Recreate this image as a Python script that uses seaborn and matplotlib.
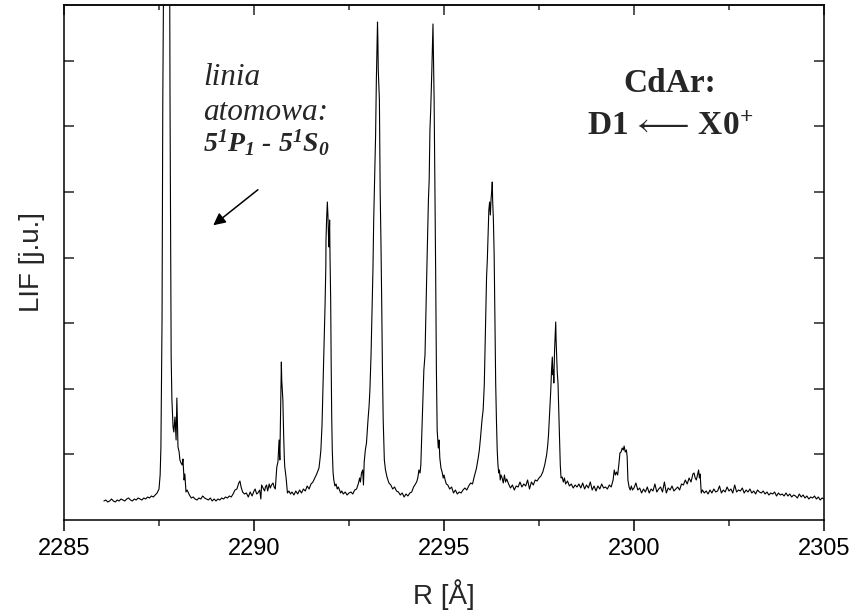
import matplotlib
matplotlib.use("Agg")
import matplotlib.pyplot as plt
import seaborn as sns
import pandas as pd
from matplotlib.ticker import MultipleLocator, NullFormatter

# ---------------- data (wavelength in Angstrom, LIF in arbitrary units) ----------------
seg1_wl = [2286.05, 2286.10, 2286.15, 2286.20, 2286.25, 2286.30, 2286.35, 2286.40, 2286.45, 2286.50,
           2286.55, 2286.60, 2286.65, 2286.70, 2286.75, 2286.80, 2286.85, 2286.90, 2286.95, 2287.00,
           2287.05, 2287.10, 2287.15, 2287.20, 2287.25, 2287.30, 2287.35, 2287.40, 2287.45, 2287.50]
seg1_lif = [19, 20, 18, 19, 21, 19, 18, 20, 19, 21,
            20, 19, 21, 22, 20, 19, 21, 20, 22, 21,
            20, 22, 21, 23, 22, 24, 23, 25, 27, 31]

seg2_wl = [2287.53, 2287.55, 2287.58, 2287.60, 2287.63, 2287.68, 2287.74, 2287.78, 2287.79, 2287.82,
           2287.84, 2287.87, 2287.89, 2287.92, 2287.95, 2287.97, 2288.00, 2288.03, 2288.05, 2288.08,
           2288.11, 2288.13, 2288.16, 2288.18, 2288.21, 2288.24]
seg2_lif = [45, 72, 200, 420, 600, 720, 650, 560, 420, 163,
            120, 93, 88, 103, 80, 122, 73, 68, 60, 57,
            55, 61, 40, 46, 28, 30]

seg3_wl = [2288.30, 2288.35, 2288.40, 2288.45, 2288.50, 2288.55, 2288.60, 2288.65, 2288.70, 2288.75,
           2288.80, 2288.85, 2288.90, 2288.95, 2289.00, 2289.05, 2289.10, 2289.15, 2289.20, 2289.25,
           2289.30, 2289.35, 2289.40, 2289.45, 2289.50, 2289.55, 2289.60,
           2289.63, 2289.66, 2289.70, 2289.75, 2289.80, 2289.85, 2289.90, 2289.95,
           2290.00, 2290.03, 2290.07, 2290.10, 2290.15, 2290.18, 2290.20, 2290.25, 2290.28, 2290.30,
           2290.33, 2290.36, 2290.40, 2290.43, 2290.46, 2290.50, 2290.53, 2290.56]
seg3_lif = [25, 22, 23, 21, 20, 22, 21, 24, 22, 21,
            20, 22, 19, 21, 19, 21, 20, 22, 21, 23,
            22, 24, 23, 26, 30, 31, 37,
            39, 33, 28, 26, 27, 23, 28, 24,
            29, 31, 26, 27, 30, 21, 35, 31, 29, 33,
            35, 29, 36, 32, 35, 37, 33, 31]

seg4_wl = [2290.60, 2290.63, 2290.66, 2290.68, 2290.70, 2290.72, 2290.73, 2290.745, 2290.76, 2290.78,
           2290.80, 2290.81, 2290.83, 2290.85, 2290.88, 2290.92, 2290.96,
           2291.00, 2291.05, 2291.10, 2291.15, 2291.20, 2291.25, 2291.30, 2291.35, 2291.40, 2291.45,
           2291.50, 2291.55, 2291.60, 2291.65, 2291.68]
seg4_lif = [53, 58, 80, 60, 110, 158, 140, 130, 120, 85,
            60, 53, 47, 40, 27, 29, 26,
            28, 25, 29, 26, 30, 27, 31, 29, 34, 31,
            36, 38, 42, 46, 49]

seg5_wl = [2291.71, 2291.74, 2291.76, 2291.79, 2291.82, 2291.84, 2291.87, 2291.89, 2291.895, 2291.91,
           2291.93, 2291.945, 2291.96, 2291.975, 2291.99, 2292.00, 2292.018, 2292.03, 2292.045, 2292.06,
           2292.08, 2292.10, 2292.13, 2292.16, 2292.19, 2292.22, 2292.25, 2292.28, 2292.31, 2292.35,
           2292.40, 2292.45]
seg5_lif = [52, 62, 70, 95, 140, 170, 215, 253, 280, 300,
            318, 305, 285, 273, 300, 265, 220, 160, 103, 70,
            48, 40, 34, 36, 31, 33, 30, 27, 29, 26,
            28, 25]

seg6_wl = [2292.50, 2292.55, 2292.60, 2292.65, 2292.70, 2292.75,
           2292.78, 2292.80, 2292.83, 2292.86, 2292.88, 2292.90, 2292.93, 2292.96,
           2293.00, 2293.03, 2293.05, 2293.08, 2293.10, 2293.13, 2293.15, 2293.18, 2293.20, 2293.22,
           2293.24, 2293.25, 2293.26, 2293.27, 2293.30, 2293.32, 2293.34, 2293.36, 2293.38, 2293.40,
           2293.43, 2293.46]
seg6_lif = [27, 28, 26, 30, 31, 37,
            42, 38, 47, 50, 35, 58, 70, 77,
            100, 115, 130, 165, 200, 250, 300, 350, 385, 440,
            480, 498, 480, 450, 420, 330, 280, 220, 150, 100,
            60, 50]

seg7_wl = [2293.50, 2293.55, 2293.60, 2293.65, 2293.70, 2293.75, 2293.80, 2293.85, 2293.90, 2293.95,
           2294.00, 2294.05, 2294.10, 2294.15, 2294.20, 2294.25,
           2294.28, 2294.31, 2294.34, 2294.37, 2294.39, 2294.41, 2294.43, 2294.45, 2294.47, 2294.50,
           2294.53, 2294.56, 2294.59, 2294.61, 2294.63, 2294.65, 2294.68, 2294.71, 2294.72, 2294.74,
           2294.76, 2294.78, 2294.80, 2294.82, 2294.85, 2294.87, 2294.89, 2294.92, 2294.95, 2294.98]
seg7_lif = [43, 37, 35, 31, 33, 29, 28, 25, 27, 23,
            26, 24, 27, 28, 33, 36,
            38, 42, 50, 47, 55, 80, 103, 125, 150, 165,
            220, 270, 320, 340, 390, 410, 450, 496, 470, 420,
            340, 250, 150, 90, 72, 80, 62, 52, 48, 42]

seg8_wl = [2295.00, 2295.03, 2295.06, 2295.10,
           2295.15, 2295.20, 2295.25, 2295.30, 2295.35, 2295.40, 2295.45, 2295.50, 2295.55, 2295.60,
           2295.65, 2295.70, 2295.75, 2295.80, 2295.85, 2295.90, 2295.93, 2295.96,
           2296.00, 2296.03, 2296.06, 2296.08, 2296.10, 2296.12, 2296.14, 2296.16, 2296.18, 2296.20,
           2296.22, 2296.24, 2296.26, 2296.27, 2296.28, 2296.30, 2296.32, 2296.34, 2296.36, 2296.38,
           2296.40, 2296.42, 2296.44, 2296.46, 2296.48, 2296.50, 2296.53, 2296.56, 2296.59, 2296.62,
           2296.65]
seg8_lif = [45, 40, 36, 35,
            31, 33, 27, 30, 26, 28, 27, 30, 32, 30,
            34, 37, 36, 44, 51, 62, 70, 82,
            100, 110, 135, 170, 205, 243, 260, 285, 310, 318,
            305, 322, 330, 338, 320, 300, 265, 200, 137, 100,
            70, 55, 47, 50, 40, 45, 42, 37, 45, 38,
            41]

seg9_wl = [2296.70, 2296.75, 2296.80, 2296.85, 2296.90, 2296.95, 2297.00, 2297.05, 2297.10, 2297.15,
           2297.20, 2297.25, 2297.30, 2297.35, 2297.40, 2297.45, 2297.50, 2297.55, 2297.60, 2297.65,
           2297.70, 2297.73, 2297.75, 2297.77, 2297.79, 2297.81, 2297.83, 2297.85, 2297.87, 2297.88,
           2297.89, 2297.91, 2297.93, 2297.94, 2297.95, 2297.96, 2297.97, 2297.98,
           2298.00, 2298.02, 2298.04, 2298.06, 2298.08, 2298.11, 2298.14, 2298.17, 2298.20]
seg9_lif = [36, 32, 35, 30, 34, 33, 38, 33, 36, 34,
            40, 31, 38, 35, 40, 39, 42, 44, 48, 55,
            65, 75, 85, 100, 115, 130, 150, 163, 145, 150,
            137, 170, 190, 198, 180, 170, 160, 148,
            137, 110, 80, 55, 42, 43, 38, 42, 36]

seg10_wl = [2298.25, 2298.30, 2298.35, 2298.40, 2298.45, 2298.50, 2298.55, 2298.60, 2298.65, 2298.70,
            2298.75, 2298.80, 2298.85, 2298.90, 2298.95, 2299.00, 2299.05, 2299.10, 2299.15, 2299.20,
            2299.25, 2299.30, 2299.35, 2299.40, 2299.45,
            2299.48, 2299.51, 2299.54, 2299.57, 2299.60, 2299.63, 2299.66, 2299.69, 2299.72,
            2299.74, 2299.77, 2299.80, 2299.82, 2299.84, 2299.87, 2299.90, 2299.93, 2299.96]
seg10_lif = [39, 34, 36, 32, 35, 33, 36, 32, 37, 31,
             35, 32, 38, 30, 34, 29, 34, 31, 36, 32,
             33, 31, 35, 33, 40,
             50, 45, 48, 45, 55, 67, 68, 72, 70,
             74, 68, 70, 63, 40, 33, 30, 34, 30]

seg11_wl = [2300.00, 2300.05, 2300.10, 2300.15, 2300.20, 2300.25, 2300.30, 2300.35, 2300.40, 2300.45,
            2300.50, 2300.55, 2300.60, 2300.65, 2300.70, 2300.75, 2300.80, 2300.85, 2300.90, 2300.95,
            2301.00, 2301.05, 2301.10, 2301.15, 2301.20, 2301.25, 2301.30, 2301.35, 2301.40, 2301.45,
            2301.50, 2301.55,
            2301.58, 2301.61, 2301.64, 2301.67, 2301.70, 2301.72, 2301.74, 2301.77, 2301.80, 2301.85,
            2301.90, 2301.95]
seg11_lif = [32, 37, 30, 32, 27, 31, 28, 33, 27, 31,
             29, 36, 28, 31, 33, 28, 38, 27, 32, 30,
             34, 29, 31, 33, 30, 36, 35, 40, 36, 42,
             38, 46,
             47, 42, 40, 45, 50, 42, 46, 27, 30, 27,
             29, 26]

seg12_wl = [2302.00, 2302.05, 2302.10, 2302.15, 2302.20, 2302.25, 2302.30, 2302.35, 2302.40, 2302.45,
            2302.50, 2302.55, 2302.60, 2302.65, 2302.70, 2302.75, 2302.80, 2302.85, 2302.90, 2302.95,
            2303.00, 2303.05, 2303.10, 2303.15, 2303.20, 2303.25, 2303.30, 2303.35, 2303.40, 2303.45,
            2303.50, 2303.55, 2303.60, 2303.65, 2303.70, 2303.75, 2303.80, 2303.85, 2303.90, 2303.95,
            2304.00, 2304.05, 2304.10, 2304.15, 2304.20, 2304.25, 2304.30, 2304.35, 2304.40, 2304.45,
            2304.50, 2304.55, 2304.60, 2304.65, 2304.70, 2304.75, 2304.80, 2304.85, 2304.90, 2304.95,
            2305.00]
seg12_lif = [30, 27, 31, 28, 29, 34, 27, 30, 28, 33,
             29, 31, 27, 35, 28, 30, 29, 32, 27, 30,
             28, 31, 27, 29, 26, 30, 28, 27, 29, 26,
             28, 25, 27, 26, 28, 24, 27, 25, 26, 24,
             27, 24, 26, 23, 25, 24, 22, 26, 23, 25,
             22, 24, 21, 23, 22, 24, 21, 23, 20, 22,
             21]

x_major_ticks = [2285, 2290, 2295, 2300, 2305]
x_tick_labels = ["2285", "2290", "2295", "2300", "2305"]

# ---------------- assemble ----------------
wl_parts = [seg1_wl, seg2_wl, seg3_wl, seg4_wl, seg5_wl, seg6_wl,
            seg7_wl, seg8_wl, seg9_wl, seg10_wl, seg11_wl, seg12_wl]
lif_parts = [seg1_lif, seg2_lif, seg3_lif, seg4_lif, seg5_lif, seg6_lif,
             seg7_lif, seg8_lif, seg9_lif, seg10_lif, seg11_lif, seg12_lif]
wl, lif = [], []
for i, (a, b) in enumerate(zip(wl_parts, lif_parts)):
    n = min(len(a), len(b))
    wl += a[:n]
    lif += b[:n]
df = pd.DataFrame({"R": wl, "LIF": lif})

# ---------------- style ----------------
sns.set_style("white")
plt.rcParams["font.family"] = ["Liberation Sans", "DejaVu Sans"]
plt.rcParams["mathtext.fontset"] = "custom"
plt.rcParams["mathtext.rm"] = "Liberation Serif"
plt.rcParams["mathtext.it"] = "Liberation Serif:italic"
plt.rcParams["mathtext.bf"] = "Liberation Serif:bold"
plt.rcParams["mathtext.fallback"] = "stix"

fig = plt.figure(figsize=(8.56, 6.14), dpi=100)
ax = fig.add_axes([64 / 856, 94 / 614, 760 / 856, 515 / 614])

sns.lineplot(data=df, x="R", y="LIF", color="black", linewidth=0.8,
             estimator=None, sort=False, ax=ax)

ax.set_xlim(2285, 2305)
ax.set_ylim(0, 515)
ax.set_xticks(x_major_ticks)
ax.set_xticklabels(x_tick_labels)
ax.xaxis.set_minor_locator(MultipleLocator(2.5))
ax.set_yticks([65.6 * k for k in range(1, 8)])
ax.yaxis.set_major_formatter(NullFormatter())

for sp in ax.spines.values():
    sp.set_visible(True)
    sp.set_color("black")
    sp.set_linewidth(1.1)

ax.tick_params(axis="x", which="major", direction="out", length=8, width=1.1,
               labelsize=17, pad=5, top=False, bottom=True, colors="black")
ax.tick_params(axis="x", which="minor", direction="out", length=4, width=1.1,
               top=False, bottom=True)
ax.tick_params(axis="y", which="major", direction="in", length=7, width=1.1,
               left=True, right=True, labelleft=False)

top = ax.secondary_xaxis("top")
top.set_xticks(x_major_ticks)
top.xaxis.set_minor_locator(MultipleLocator(2.5))
top.xaxis.set_major_formatter(NullFormatter())
top.tick_params(axis="x", which="major", direction="in", length=7, width=1.1)
top.tick_params(axis="x", which="minor", direction="in", length=3.6, width=1.1)
for sp in top.spines.values():
    sp.set_linewidth(1.1)

ax.set_xlabel("R [Å]", fontsize=20, labelpad=14)
ax.set_ylabel("LIF [j.u.]", fontsize=20, labelpad=14)

serif = ["Liberation Serif", "DejaVu Serif"]
ax.text(2288.66, 435, "linia", family=serif, style="italic", fontsize=22.5, va="baseline")
ax.text(2288.66, 400, "atomowa:", family=serif, style="italic", fontsize=22.5, va="baseline")
ax.text(2288.66, 368, r"$\mathdefault{5^1P_1}$ - $\mathdefault{5^1S_0}$", family=serif,
        style="italic", weight="bold", fontsize=20, va="baseline")
ax.annotate("", xy=(2288.87, 293), xytext=(2290.16, 332),
            arrowprops=dict(arrowstyle="-|>", color="black", lw=1.1, mutation_scale=18))

ax.text(2300.95, 428, "CdAr:", family=serif, weight="bold", fontsize=24,
        ha="center", va="baseline")
ax.text(2300.95, 385, r"D1$\,\longleftarrow\,$X0$^{\mathdefault{+}}$", family=serif, weight="bold",
        fontsize=24, ha="center", va="baseline")

fig.savefig("out.png", dpi=100)
